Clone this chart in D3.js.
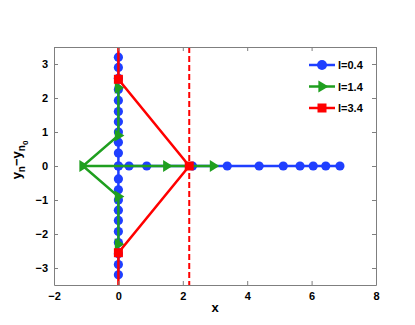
<!DOCTYPE html>
<html>
<head>
<meta charset="utf-8">
<script src="https://cdn.jsdelivr.net/npm/d3@7"></script>
<style>
  body { margin: 0; background: #fff; }
  svg { display: block; font-family: "Liberation Sans", Arial, Helvetica, sans-serif; }
</style>
</head>
<body>
<svg id="chart" width="415" height="325"></svg>
<script>
// l=0.4 : points on the imaginary axis and on the positive real axis
const blueVertY = [-3.2, -2.9, -2.58, -2.25, -1.93, -1.6, -1.3, -1.0, -0.7, -0.38, 0,
                   0.38, 0.7, 1.0, 1.3, 1.6, 1.93, 2.25, 2.58, 2.9, 3.2];
const blueHorX = [0, 0.33, 0.88, 2.3, 3.38, 4.37, 5.12, 5.64, 6.05, 6.44, 6.88];
// l=1.4
const greenBranchX = [0, 0, -1.1, 0, 0];
const greenBranchY = [2.3, 0.9, 0, -0.9, -2.3];
const greenHorX = [-1.1, 1.5, 2.95];
// l=3.4
const redX = [0, 0, 2.2, 0, 0];
const redY = [4, 2.55, 0, -2.55, -4];
const redMarkers = [1, 2, 3];
const dashX = 2.2;

const xTicks = [-2, 0, 2, 4, 6, 8];
const yTicks = [-3, -2, -1, 0, 1, 2, 3];
const legendLabels = ["l=0.4", "l=1.4", "l=3.4"];
const colors = ["#1f3fff", "#1f9f1f", "#ff0000"];

const svg = d3.select("#chart");
const margin = { top: 47, right: 39, bottom: 40, left: 54 };
const width = 415, height = 325;

const x = d3.scaleLinear().domain([-2, 8]).range([margin.left, width - margin.right]);
const y = d3.scaleLinear().domain([-3.5, 3.5]).range([height - margin.bottom, margin.top]);

svg.append("defs").append("clipPath").attr("id", "clip")
    .append("rect")
    .attr("x", x(-2)).attr("y", y(3.5))
    .attr("width", x(8) - x(-2)).attr("height", y(-3.5) - y(3.5));

const line = d3.line().x(d => x(d[0])).y(d => y(d[1]));
const plot = svg.append("g").attr("clip-path", "url(#clip)");

const blueVert = blueVertY.map(v => [0, v]);
const blueHor = blueHorX.map(v => [v, 0]);
const greenBranch = greenBranchX.map((v, i) => [v, greenBranchY[i]]);
const greenHor = greenHorX.map(v => [v, 0]);
const redPts = redX.map((v, i) => [v, redY[i]]);

const tri = (g, d, c) => {
    const cx = x(d[0]), cy = y(d[1]), r = 6;
    g.append("path")
        .attr("d", `M${cx + r},${cy} L${cx - r * 0.6},${cy - r} L${cx - r * 0.6},${cy + r} Z`)
        .attr("fill", c);
};

// blue
[blueVert, blueHor].forEach(p => plot.append("path").attr("d", line(p))
    .attr("fill", "none").attr("stroke", colors[0]).attr("stroke-width", 2.5));
plot.selectAll(".bdot").data(blueVert.concat(blueHor)).join("circle")
    .attr("cx", d => x(d[0])).attr("cy", d => y(d[1])).attr("r", 4.6)
    .attr("fill", colors[0]);

// green
[greenBranch, greenHor].forEach(p => plot.append("path").attr("d", line(p))
    .attr("fill", "none").attr("stroke", colors[1]).attr("stroke-width", 2.5));
greenBranch.concat(greenHor.slice(1)).forEach(d => tri(plot, d, colors[1]));

// red
plot.append("line")
    .attr("x1", x(dashX)).attr("x2", x(dashX)).attr("y1", y(3.5)).attr("y2", y(-3.5))
    .attr("stroke", colors[2]).attr("stroke-width", 2).attr("stroke-dasharray", "6,3");
plot.append("path").attr("d", line(redPts))
    .attr("fill", "none").attr("stroke", colors[2]).attr("stroke-width", 2.5);
plot.selectAll(".rsq").data(redMarkers.map(i => redPts[i])).join("rect")
    .attr("x", d => x(d[0]) - 4.5).attr("y", d => y(d[1]) - 4.5)
    .attr("width", 9).attr("height", 9).attr("fill", colors[2]);

// axes (box with inward ticks)
const axisColor = "#7f7f7f";
const styleAxis = g => {
    g.select(".domain").attr("stroke", axisColor);
    g.selectAll(".tick line").attr("stroke", axisColor);
    g.selectAll(".tick text").attr("fill", "#000").attr("font-size", 11).attr("font-weight", "bold");
};
const fmt = d => d < 0 ? "\u2212" + Math.abs(d) : d;

svg.append("g").attr("transform", `translate(0,${y(-3.5)})`)
    .call(d3.axisBottom(x).tickValues(xTicks).tickSize(-4).tickPadding(7).tickFormat(fmt).tickSizeOuter(0))
    .call(styleAxis);
svg.append("g").attr("transform", `translate(0,${y(3.5)})`)
    .call(d3.axisTop(x).tickValues(xTicks).tickSize(-4).tickFormat("").tickSizeOuter(0))
    .call(styleAxis);
svg.append("g").attr("transform", `translate(${x(-2)},0)`)
    .call(d3.axisLeft(y).tickValues(yTicks).tickSize(-4).tickPadding(6).tickFormat(fmt).tickSizeOuter(0))
    .call(styleAxis);
svg.append("g").attr("transform", `translate(${x(8)},0)`)
    .call(d3.axisRight(y).tickValues(yTicks).tickSize(-4).tickFormat("").tickSizeOuter(0))
    .call(styleAxis);

// axis labels
svg.append("text")
    .attr("x", (x(-2) + x(8)) / 2).attr("y", 312)
    .attr("text-anchor", "middle").attr("font-size", 13).attr("font-weight", "bold")
    .text("x");

const yl = svg.append("text")
    .attr("transform", `translate(21,${(y(-3.5) + y(3.5)) / 2 - 6}) rotate(-90)`)
    .attr("text-anchor", "middle").attr("font-size", 13).attr("font-weight", "bold");
yl.append("tspan").text("y");
yl.append("tspan").attr("font-size", 10).attr("dy", 4).text("n");
yl.append("tspan").attr("dy", -4).text("\u2212y");
yl.append("tspan").attr("font-size", 10).attr("dy", 4).text("n");
yl.append("tspan").attr("font-size", 8).attr("dy", 3).text("0");

// legend
const leg = svg.append("g").attr("transform", "translate(309,65)");
legendLabels.forEach((lab, i) => {
    const g = leg.append("g").attr("transform", `translate(0,${i * 21.5})`);
    g.append("line").attr("x1", 0).attr("x2", 26).attr("y1", 0).attr("y2", 0)
        .attr("stroke", colors[i]).attr("stroke-width", 2.5);
    if (i === 0) g.append("circle").attr("cx", 13).attr("cy", 0).attr("r", 5).attr("fill", colors[i]);
    if (i === 1) g.append("path").attr("d", "M19.5,0 L9.4,-6 L9.4,6 Z").attr("fill", colors[i]);
    if (i === 2) g.append("rect").attr("x", 8.5).attr("y", -4.5).attr("width", 9).attr("height", 9).attr("fill", colors[i]);
    g.append("text").attr("x", 29).attr("y", 4).attr("font-size", 11).attr("font-weight", "bold").text(lab);
});
</script>
</body>
</html>
